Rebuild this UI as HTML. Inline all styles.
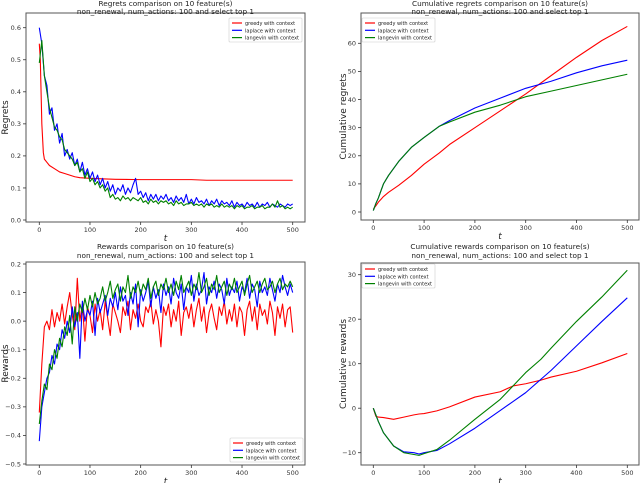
<!DOCTYPE html>
<html><head><meta charset="utf-8"><style>
body{margin:0;background:#fff;width:640px;height:483px;overflow:hidden}
svg{display:block;font-family:"DejaVu Sans","Liberation Sans",sans-serif}
</style></head><body>
<svg id="fig" width="640" height="483" viewBox="0 0 640 483"></svg>
<script>
// ---- data ----
const regGreedyT=[0,2,5,8,10,15,20,30,40,50,60,70,80,100,130,150,200,300,330,400,500];
const regGreedyV=[0.55,0.50,0.30,0.21,0.19,0.18,0.17,0.16,0.15,0.145,0.14,0.135,0.132,0.13,0.128,0.127,0.126,0.126,0.124,0.124,0.124];
const regLaplace=[0.60,0.55,0.45,0.42,0.33,0.35,0.28,0.30,0.24,0.27,0.20,0.22,0.19,0.21,0.17,0.19,0.15,0.18,0.14,0.16,0.13,0.15,0.12,0.14,0.11,0.13,0.10,0.12,0.09,0.11,0.08,0.10,0.09,0.11,0.08,0.10,0.085,0.11,0.13,0.08,0.09,0.07,0.085,0.06,0.08,0.065,0.08,0.06,0.075,0.065,0.08,0.06,0.07,0.055,0.075,0.06,0.07,0.055,0.08,0.05,0.065,0.05,0.07,0.055,0.06,0.05,0.065,0.045,0.06,0.05,0.065,0.045,0.06,0.05,0.055,0.045,0.06,0.04,0.055,0.045,0.05,0.04,0.055,0.045,0.05,0.04,0.055,0.04,0.05,0.045,0.055,0.04,0.05,0.045,0.04,0.05,0.045,0.04,0.05,0.045,0.05];
const regLangevin=[0.49,0.56,0.45,0.40,0.35,0.32,0.29,0.28,0.26,0.25,0.22,0.21,0.20,0.19,0.17,0.18,0.15,0.16,0.13,0.15,0.12,0.13,0.11,0.12,0.10,0.11,0.09,0.10,0.07,0.08,0.065,0.07,0.06,0.075,0.065,0.07,0.06,0.07,0.065,0.06,0.07,0.055,0.06,0.05,0.065,0.055,0.06,0.05,0.06,0.055,0.06,0.05,0.055,0.045,0.06,0.05,0.055,0.045,0.05,0.05,0.055,0.045,0.05,0.045,0.05,0.04,0.05,0.045,0.05,0.04,0.045,0.04,0.05,0.04,0.045,0.04,0.045,0.035,0.045,0.04,0.045,0.035,0.04,0.04,0.045,0.035,0.04,0.04,0.045,0.035,0.04,0.04,0.05,0.04,0.06,0.04,0.045,0.035,0.04,0.035,0.04];
const cumRegT=[0,5,10,20,30,50,75,100,130,150,200,250,300,350,400,450,500];
const cumRegGreedy=[1,2.2,3.5,5.5,7,9.5,13,17,21,24,30,36,42,48.5,55,61,66];
const cumRegLaplace=[0.5,3,5,10,13,18,23,26.5,30.5,32.5,37,40.5,44,46.5,49.5,52,54];
const cumRegLangevin=[0.5,3,5,10,13,18,23,26.5,30.5,32,35.5,38,41,43,45,47,49];
const rewGreedy=[-0.32,-0.15,-0.02,0.0,-0.03,0.04,-0.02,0.03,0.0,0.06,-0.01,0.05,0.1,0.02,-0.03,0.15,0.0,0.06,-0.07,0.05,0.02,-0.04,0.06,0.0,0.04,-0.03,0.07,0.01,-0.05,0.06,0.03,0.0,-0.04,0.05,0.02,0.07,-0.03,0.04,0.01,0.06,0.0,-0.02,0.05,0.03,0.07,-0.01,0.04,0.0,-0.09,0.05,0.02,0.06,-0.02,0.04,0.0,0.07,-0.05,0.03,0.05,0.01,0.06,-0.02,0.04,0.08,0.0,0.05,-0.04,0.03,0.06,0.01,-0.03,0.05,0.02,0.07,-0.01,0.04,0.0,0.06,-0.02,0.05,0.03,-0.05,0.04,0.07,0.0,0.05,-0.03,0.06,0.02,0.04,-0.01,0.07,0.03,-0.05,0.05,0.01,0.06,-0.02,0.04,0.05,-0.04];
const rewLaplace=[-0.42,-0.3,-0.25,-0.2,-0.18,-0.12,-0.15,-0.08,-0.1,-0.03,-0.06,0.0,-0.04,0.05,-0.02,0.03,-0.13,0.07,0.0,0.04,0.02,0.07,-0.05,0.08,0.03,0.06,0.09,0.02,0.08,0.05,0.1,0.04,0.12,0.07,0.09,0.02,0.1,0.06,0.13,-0.02,0.11,0.07,0.1,0.14,0.05,0.12,0.08,0.11,0.03,0.13,0.09,0.12,0.06,0.15,0.1,0.08,0.13,0.04,0.12,0.1,0.16,0.07,0.13,0.09,0.11,0.17,0.06,0.12,0.1,0.14,0.08,0.13,0.11,0.06,0.15,0.09,0.12,0.1,0.14,0.07,0.12,0.1,0.15,0.08,0.13,0.11,0.05,0.14,0.1,0.12,0.09,0.15,0.11,0.07,0.13,0.1,0.16,0.12,0.09,0.13,0.1];
const rewLangevin=[-0.36,-0.28,-0.22,-0.24,-0.15,-0.17,-0.1,-0.13,-0.06,-0.09,-0.02,-0.05,0.02,-0.08,0.05,0.0,0.06,0.03,0.08,0.04,0.09,0.05,0.1,0.06,0.08,0.12,0.07,0.1,0.14,0.08,0.11,0.13,0.07,0.12,0.1,0.16,0.08,0.12,0.1,0.14,0.09,0.13,0.11,0.15,0.08,0.12,0.14,0.09,0.13,0.11,0.15,0.1,0.13,0.09,0.14,0.11,0.16,0.1,0.12,0.14,0.09,0.13,0.11,0.17,0.1,0.12,0.15,0.09,0.13,0.11,0.16,0.1,0.12,0.14,0.09,0.13,0.11,0.15,0.1,0.12,0.14,0.09,0.13,0.16,0.1,0.12,0.14,0.1,0.13,0.15,0.11,0.12,0.14,0.1,0.13,0.15,0.11,0.13,0.12,0.14,0.12];
const cumRewT=[0,5,10,20,40,60,80,90,100,125,150,200,250,275,300,330,350,400,450,500];
const cumRewGreedy=[0,-1.8,-2,-2.1,-2.5,-2,-1.5,-1.3,-1.2,-0.6,0.3,2.5,3.7,5,5.5,6.3,7,8.3,10.2,12.3];
const cumRewLaplace=[0,-1.5,-3,-5.5,-8.5,-9.8,-10,-10.3,-10,-9.5,-8,-4.5,-0.5,1.5,3.5,6.5,8.5,14,19.5,24.8];
const cumRewLangevin=[0,-1.5,-3,-5.5,-8.5,-10,-10.4,-10.6,-10.2,-9.3,-7.2,-2.5,2,5,8,11,13.5,19.5,25,31];
const xTicks=[0,100,200,300,400,500];
const legendLabels=["greedy with context","laplace with context","langevin with context"];
const colors=["#ff0000","#0000ff","#008000"];

const NS="http://www.w3.org/2000/svg";
const svg=document.getElementById('fig');
function el(tag,attrs,parent){const e=document.createElementNS(NS,tag);for(const k in attrs)e.setAttribute(k,attrs[k]);(parent||svg).appendChild(e);return e;}
function txt(s,attrs,parent){const e=el('text',attrs,parent);e.textContent=s;return e;}

function panel(cfg){
  const g=el('g',{});
  
  
  const {L,R,T,B,x0,x1,ymin,ymax,yp0,yp1}=cfg;
  const sx=v=>x0+(x1-x0)*v/500;
  const sy=v=>yp0+(yp1-yp0)*(v-ymin)/(ymax-ymin);
  const fr=el('rect',{x:L,y:T,width:R-L,height:B-T,fill:'none',stroke:'#555','stroke-width':1},g);
  
  
  xTicks.forEach(v=>{
    el('line',{x1:sx(v),x2:sx(v),y1:B,y2:B+3,stroke:'#333','stroke-width':0.8},g);
    const t=txt(String(v),{x:sx(v),y:B+10,'font-size':6.5,'text-anchor':'middle',fill:'#333'},g);
    
    
  });
  cfg.yTicks.forEach(v=>{
    el('line',{x1:L-3,x2:L,y1:sy(v),y2:sy(v),stroke:'#333','stroke-width':0.8},g);
    const t=txt(cfg.fmt(v),{x:L-5,y:sy(v)+2.3,'font-size':6.5,'text-anchor':'end',fill:'#333'},g);
    
    
  });
  const cx=(L+R)/2;
  const t1=txt(cfg.title1,{x:cx,y:cfg.ty1,'font-size':7.3,'text-anchor':'middle',fill:'#222'},g);
  
  
  const t2=txt(cfg.title2,{x:cx,y:cfg.ty2,'font-size':7.3,'text-anchor':'middle',fill:'#222'},g);
  
  
  const xl=txt('t',{x:cx,y:B+19,'font-size':9,'font-style':'italic','text-anchor':'middle',fill:'#222'},g);
  
  
  const yy=(T+B)/2;
  const yl=txt(cfg.ylabel,{x:cfg.ylx,y:yy,'font-size':9,'text-anchor':'middle',fill:'#222',transform:`rotate(-90 ${cfg.ylx} ${yy})`},g);
  
  
  cfg.series.forEach((s,i)=>{
    const ts=s.t||s.v.map((_,k)=>k*500/(s.v.length-1));
    const d=s.v.map((v,k)=>(k?'L':'M')+sx(ts[k]).toFixed(2)+' '+sy(v).toFixed(2)).join('');
    const p=el('path',{d:d,fill:'none',stroke:colors[i],'stroke-width':1.1,'stroke-linejoin':'round'},g);
    
    
  });
  const lg=el('g',{},g);
  
  
  const [lx,ly]=cfg.legend;
  el('rect',{x:lx,y:ly,width:73,height:24,fill:'#fff',stroke:'#ccc','stroke-width':0.6,rx:1},lg);
  legendLabels.forEach((s,i)=>{
    const yy2=ly+5+i*7.3;
    el('line',{x1:lx+3,x2:lx+13,y1:yy2,y2:yy2,stroke:colors[i],'stroke-width':1.2},lg);
    const t=txt(s,{x:lx+16,y:yy2+2,'font-size':5,fill:'#222'},lg);
    
    
  });
}

panel({name:'regrets-chart',L:26,R:305,T:13,B:222,x0:39.3,x1:292.7,ymin:0,ymax:0.6,yp0:220,yp1:27.7,
  yTicks:[0,0.1,0.2,0.3,0.4,0.5,0.6],fmt:v=>v.toFixed(1),ty1:6,ty2:14,
  title1:'Regrets comparison on 10 feature(s)',title2:'non_renewal, num_actions: 100 and select top 1',
  ylabel:'Regrets',ylx:8,legend:[229,18],
  series:[{t:regGreedyT,v:regGreedyV},{v:regLaplace},{v:regLangevin}]});
panel({name:'cumulative-regrets-chart',L:361,R:639,T:13,B:220,x0:373.3,x1:627.3,ymin:0,ymax:60,yp0:212,yp1:43.3,
  yTicks:[0,10,20,30,40,50,60],fmt:v=>String(v),ty1:6,ty2:14,
  title1:'Cumulative regrets comparison on 10 feature(s)',title2:'non_renewal, num_actions: 100 and select top 1',
  ylabel:'Cumulative regrets',ylx:346,legend:[362,18],
  series:[{t:cumRegT,v:cumRegGreedy},{t:cumRegT,v:cumRegLaplace},{t:cumRegT,v:cumRegLangevin}]});
panel({name:'rewards-chart',L:26,R:305,T:262,B:465,x0:39.3,x1:292.7,ymin:-0.5,ymax:0.2,yp0:464,yp1:264,
  yTicks:[-0.5,-0.4,-0.3,-0.2,-0.1,0,0.1,0.2],fmt:v=>(v<0?'\u22120.':'0.')+Math.round(Math.abs(v)*10),ty1:249,ty2:258,
  title1:'Rewards comparison on 10 feature(s)',title2:'non_renewal, num_actions: 100 and select top 1',
  ylabel:'Rewards',ylx:8,legend:[230,438],
  series:[{v:rewGreedy},{v:rewLaplace},{v:rewLangevin}]});
panel({name:'cumulative-rewards-chart',L:361,R:639,T:263,B:465,x0:373.3,x1:627.3,ymin:-10,ymax:30,yp0:452.7,yp1:274.7,
  yTicks:[-10,0,10,20,30],fmt:v=>(v<0?'\u2212':'')+Math.abs(v),ty1:249,ty2:258,
  title1:'Cumulative rewards comparison on 10 feature(s)',title2:'non_renewal, num_actions: 100 and select top 1',
  ylabel:'Cumulative rewards',ylx:346,legend:[362,264],
  series:[{t:cumRewT,v:cumRewGreedy},{t:cumRewT,v:cumRewLaplace},{t:cumRewT,v:cumRewLangevin}]});
</script>
</body></html>
